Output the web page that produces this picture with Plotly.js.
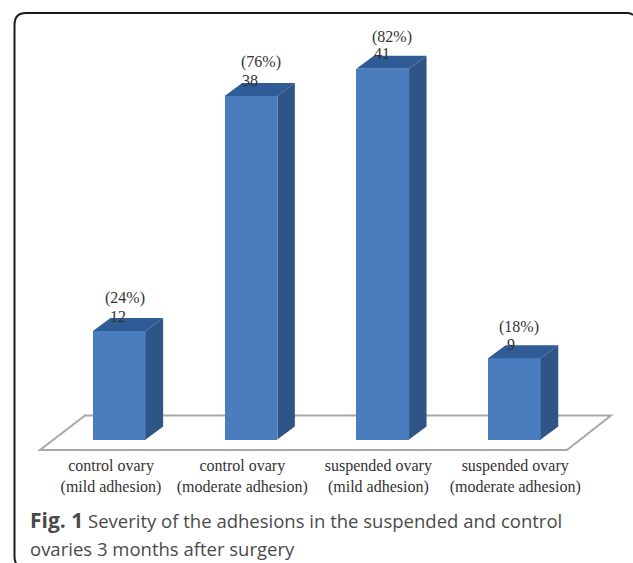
<!DOCTYPE html>
<html>
<head>
<meta charset="utf-8">
<script src="https://cdn.plot.ly/plotly-3.0.1.min.js"></script>
<style>
  html, body { margin: 0; padding: 0; background: #ffffff; }
  #chart { width: 633px; height: 563px; }
</style>
</head>
<body>
<div id="chart"></div>
<script>
// Adhesion counts per ovary group (50 ovaries in each arm)
const groups = ['control ovary<br>(mild adhesion)', 'control ovary<br>(moderate adhesion)',
                'suspended ovary<br>(mild adhesion)', 'suspended ovary<br>(moderate adhesion)'];
const counts = [12, 38, 41, 9];
const shares = ['(24%)', '(76%)', '(82%)', '(18%)'];
const groupIndex = [0, 1, 2, 3];
const labelCentres = [-0.063, 0.934, 1.967, 3.006];

// Label nudges in pixels, relative to the top of each bar
const countShiftX = [-1, -1, -1, -3];
const countShiftY = [15, 15, 15, 14];
const shareShiftX = [6, 10, 9, 5];
const shareShiftY = [33, 34, 32, 31];

// Page-wide axes: one category step is 131.7 px, one count is 9.04 px
const W = 633, H = 563;
const xStep = 131.7, xOrigin = 119.3, yUnit = 9.04, yBase = 439.5;
const xRange = [-xOrigin / xStep, (W - xOrigin) / xStep];
const yRange = [(yBase - H) / yUnit, yBase / yUnit];

// Pseudo-3D extrusion in axis units
const barWidth = 0.4, half = barWidth / 2;
const depthX = 17.5 / xStep, depthY = 13 / yUnit;

const FRONT = '#4a7dbd', SIDE = '#2f5587', TOP = '#2f5b97';

const sideFaces = {
  type: 'scatter', mode: 'lines', fill: 'toself', fillcolor: SIDE, hoverinfo: 'skip',
  line: { width: 0, color: SIDE }, showlegend: false,
  x: groupIndex.flatMap(i => [i + half, i + half + depthX, i + half + depthX, i + half, i + half, null]),
  y: counts.flatMap(v => [0, depthY, v + depthY, v, 0, null])
};
const topFaces = {
  type: 'scatter', mode: 'lines', fill: 'toself', fillcolor: TOP, hoverinfo: 'skip',
  line: { width: 0, color: TOP }, showlegend: false,
  x: groupIndex.flatMap(i => [i - half, i + half, i + half + depthX, i - half + depthX, i - half, null]),
  y: counts.flatMap(v => [v, v, v + depthY, v + depthY, v, null])
};
const frontFaces = {
  type: 'bar', x: groupIndex, y: counts, width: barWidth, showlegend: false,
  marker: { color: FRONT, line: { width: 0 } }, hoverinfo: 'y'
};

// Floor slab under the bars
const floorX = px => (px - xOrigin) / xStep;
const floorY = py => (yBase - py) / yUnit;
const floorPath = 'M ' + floorX(40) + ' ' + floorY(450) +
  ' L ' + floorX(567) + ' ' + floorY(450) +
  ' L ' + floorX(611) + ' ' + floorY(415.5) +
  ' L ' + floorX(85) + ' ' + floorY(415.5) + ' Z';

// Card outline, open along its bottom edge
const px = v => v / W, py = v => 1 - v / H;
const cardPath = 'M ' + px(16) + ' ' + py(563) +
  ' Q ' + px(14.5) + ' ' + py(561) + ' ' + px(14.5) + ' ' + py(557) +
  ' L ' + px(14.5) + ' ' + py(25) +
  ' Q ' + px(14.5) + ' ' + py(13) + ' ' + px(26) + ' ' + py(13) +
  ' L ' + px(628) + ' ' + py(13) +
  ' Q ' + px(631) + ' ' + py(13) + ' ' + px(633) + ' ' + py(15);

const serif = '"Liberation Serif", serif';
const sans = '"Open Sans", "Noto Sans", sans-serif';

const valueLabels = groupIndex.map(i => ({
  x: i, y: counts[i], xref: 'x', yref: 'y', text: String(counts[i]), showarrow: false,
  xanchor: 'center', yanchor: 'middle', xshift: countShiftX[i], yshift: countShiftY[i],
  font: { family: serif, size: 16, color: '#333333' }
}));
const shareLabels = groupIndex.map(i => ({
  x: i, y: counts[i], xref: 'x', yref: 'y', text: shares[i], showarrow: false,
  xanchor: 'center', yanchor: 'middle', xshift: shareShiftX[i], yshift: shareShiftY[i],
  font: { family: serif, size: 16, color: '#333333' }
}));
const captionLine = (text, top) => ({
  x: px(28), y: py(top), xref: 'paper', yref: 'paper', text: text, showarrow: false,
  xanchor: 'left', yanchor: 'middle', align: 'left',
  font: { family: sans, size: 18.5, color: '#4a4a4a' }
});

const layout = {
  width: W, height: H,
  margin: { l: 0, r: 0, t: 0, b: 0 },
  paper_bgcolor: '#ffffff', plot_bgcolor: 'rgba(0,0,0,0)',
  showlegend: false, bargap: 0,
  xaxis: {
    type: 'linear', range: xRange, fixedrange: true,
    anchor: 'free', position: (H - 454) / H,
    tickmode: 'array', tickvals: labelCentres, ticktext: groups, ticks: '',
    showgrid: false, zeroline: false, showline: false,
    tickfont: { family: serif, size: 16, color: '#333333' }
  },
  yaxis: {
    range: yRange, fixedrange: true, visible: false,
    showgrid: false, zeroline: false
  },
  shapes: [
    { type: 'path', xref: 'paper', yref: 'paper', path: cardPath, layer: 'below',
      line: { color: '#1a1a1a', width: 2 } },
    { type: 'path', xref: 'x', yref: 'y', path: floorPath, layer: 'below',
      fillcolor: '#ffffff', line: { color: '#a8a8a8', width: 2 } }
  ],
  annotations: [
    ...valueLabels, ...shareLabels,
    captionLine('<b><span style="font-size:21px">Fig. 1</span></b> Severity of the adhesions in the suspended and control', 520),
    captionLine('ovaries 3 months after surgery', 548)
  ]
};

Plotly.newPlot('chart', [frontFaces, sideFaces, topFaces], layout,
  { displayModeBar: false, responsive: false });
</script>
</body>
</html>
